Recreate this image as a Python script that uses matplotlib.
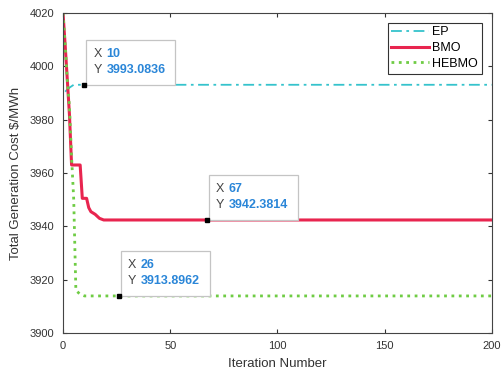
import matplotlib.pyplot as plt
from matplotlib.patches import Rectangle

# curve vertices (iteration, cost)
ep_iter = [1, 3, 5, 200]
ep_cost = [3990.5, 3992.0, 3993.0836, 3993.0836]

bmo_iter = [0, 1, 2, 3, 4, 8, 9, 11, 12, 13, 15, 17, 19, 200]
bmo_cost = [4020, 4008, 3995, 3982, 3963, 3963, 3950.5, 3950.5, 3947, 3945.5, 3944.5, 3943, 3942.38, 3942.3814]

hebmo_iter = [0, 1, 2, 3, 4, 5, 6, 8, 10, 200]
hebmo_cost = [4020, 4008, 3995, 3985, 3966, 3950, 3916, 3914.5, 3913.8962, 3913.8962]

# data tips
tip_x = [10, 67, 26]
tip_y = [3993.0836, 3942.3814, 3913.8962]

plt.rcParams['font.family'] = ['Liberation Sans', 'DejaVu Sans']

fig = plt.figure(figsize=(5.04, 3.76), dpi=100)
ax = fig.add_axes([0.125, 0.1144, 0.851, 0.851])
ax.set_xlim(0, 200)
ax.set_ylim(3900, 4020)

ax.plot(ep_iter, ep_cost, color='#35c3cc', linestyle='-.', linewidth=1.3, label='EP', dashes=[6, 2.5, 1.5, 2.5])
ax.plot(bmo_iter, bmo_cost, color='#e8254f', linewidth=2.2, label='BMO')
ax.plot(hebmo_iter, hebmo_cost, color='#6fcc44', linestyle=':', linewidth=2.0, label='HEBMO')

ax.plot(tip_x, tip_y, 's', color='black', markersize=3, zorder=6)

# pixel -> data scale (fixed axes)
bb = ax.get_window_extent()
dx = 200 / bb.width
dy = 120 / bb.height

for x, y in zip(tip_x, tip_y):
	ax.add_patch(Rectangle((x + 2 * dx, y), 89 * dx, 45 * dy, facecolor='white',
		edgecolor='#c4c4c4', linewidth=0.9, zorder=4))
	ax.annotate('X', (x, y), xytext=(9, 31), textcoords='offset pixels', fontsize=9,
		color='#444444', va='center', ha='left', zorder=7)
	ax.annotate(f'{x}', (x, y), xytext=(22, 31), textcoords='offset pixels', fontsize=9,
		color='#2a86d8', fontweight='bold', va='center', ha='left', zorder=7)
	ax.annotate('Y', (x, y), xytext=(9, 15), textcoords='offset pixels', fontsize=9,
		color='#444444', va='center', ha='left', zorder=7)
	ax.annotate(f'{y:.4f}', (x, y), xytext=(22, 15), textcoords='offset pixels', fontsize=9,
		color='#2a86d8', fontweight='bold', va='center', ha='left', zorder=7)

ax.set_xticks([0, 50, 100, 150, 200])
ax.set_yticks([3900, 3920, 3940, 3960, 3980, 4000, 4020])
ax.tick_params(direction='in', top=True, right=True, labelsize=8, length=3, colors='#333333', pad=6)
for s in ax.spines.values():
	s.set_color('#444444')
	s.set_linewidth(0.8)

ax.set_xlabel('Iteration Number', fontsize=9.5, color='#333333', labelpad=5)
ax.set_ylabel('Total Generation Cost \\$/MWh', fontsize=9.5, color='#333333', labelpad=6)

leg = ax.legend(loc='upper right', fontsize=9, frameon=True, fancybox=False, edgecolor='black',
	handlelength=3.0, handletextpad=0.25, borderpad=0.3, labelspacing=0.3,
	bbox_to_anchor=(0.976, 0.97), borderaxespad=0)
leg.get_frame().set_linewidth(0.8)
leg.set_zorder(8)

fig.savefig('out.png', dpi=100)
